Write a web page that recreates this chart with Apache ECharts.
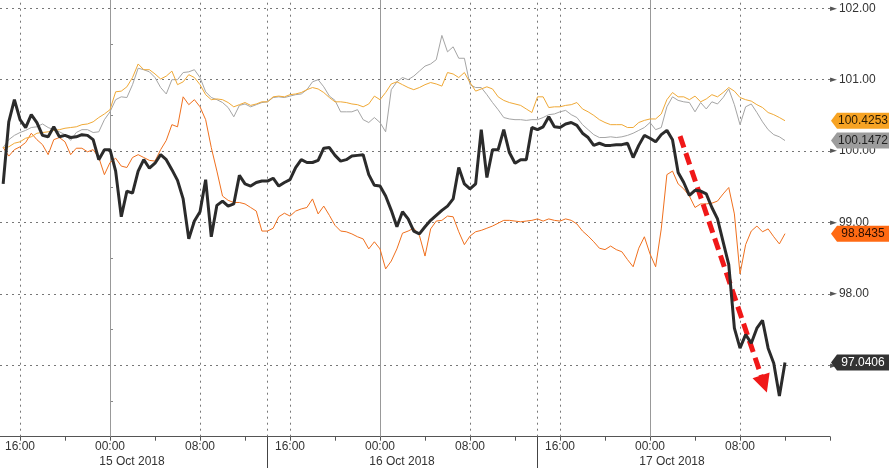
<!DOCTYPE html>
<html>
<head>
<meta charset="utf-8">
<script src="https://cdn.jsdelivr.net/npm/echarts@6/dist/echarts.min.js"></script>
<style>html,body{margin:0;padding:0;background:#fff}#c{width:890px;height:468px}</style>
</head>
<body>
<div id="c"></div>
<script>
// ---- data (hours measured from 15 Oct 2018 00:00) ----
const START_HOUR = -9.5;
const STEP_HOUR = 0.5;

const blackValues = [99.54,100.41,100.72,100.44,100.33,100.51,100.40,100.22,100.20,100.34,
100.20,100.22,100.19,100.20,100.23,100.22,100.16,99.88,100.02,100.02,
99.72,99.08,99.44,99.41,99.72,99.88,99.76,99.83,99.95,99.88,
99.74,99.59,99.33,98.77,99.02,99.15,99.60,98.80,99.24,99.30,
99.23,99.26,99.66,99.54,99.51,99.56,99.58,99.58,99.62,99.51,
99.56,99.60,99.77,99.88,99.84,99.84,99.87,100.04,100.05,99.94,
99.86,99.88,99.93,99.94,99.95,99.67,99.52,99.51,99.37,99.17,
98.94,99.15,99.05,98.88,98.84,98.94,99.03,99.10,99.17,99.23,
99.33,99.77,99.54,99.47,99.54,100.30,99.63,100.02,100.02,100.30,
99.98,99.83,99.88,99.88,100.33,100.30,100.34,100.48,100.34,100.33,
100.38,100.40,100.36,100.25,100.19,100.08,100.11,100.08,100.08,100.09,
100.09,100.11,99.91,100.08,100.22,100.18,100.13,100.23,100.29,100.16,
99.70,99.56,99.38,99.45,99.44,99.40,99.21,99.05,98.73,98.41,
97.52,97.24,97.43,97.31,97.52,97.63,97.24,97.03,96.57,97.0406];

const orangeValues = [100.05,100.06,100.11,100.13,100.18,100.20,100.25,100.26,100.27,100.29,
100.30,100.32,100.33,100.34,100.37,100.38,100.41,100.47,100.52,100.58,
100.83,100.84,100.90,101.03,101.22,101.14,101.14,101.08,101.01,101.05,
101.12,100.93,100.97,101.07,101.03,100.93,100.79,100.72,100.73,100.72,
100.68,100.62,100.65,100.68,100.64,100.66,100.69,100.69,100.76,100.77,
100.76,100.79,100.80,100.82,100.86,100.89,100.87,100.82,100.75,100.69,
100.69,100.68,100.66,100.65,100.62,100.66,100.77,100.72,100.82,100.94,
100.97,100.93,100.89,100.86,100.89,100.93,100.96,100.94,100.91,101.10,
101.08,101.03,101.10,100.96,100.84,100.87,100.90,100.87,100.76,100.71,
100.68,100.66,100.64,100.59,100.54,100.76,100.76,100.61,100.62,100.62,
100.64,100.65,100.68,100.59,100.55,100.50,100.44,100.40,100.37,100.37,
100.37,100.33,100.33,100.40,100.43,100.45,100.45,100.52,100.72,100.82,
100.76,100.76,100.72,100.77,100.69,100.73,100.79,100.76,100.82,100.89,
100.84,100.75,100.72,100.70,100.65,100.61,100.54,100.51,100.47,100.4253];

const grayValues = [100.05,100.16,100.22,100.26,100.29,100.33,100.34,100.38,100.33,100.30,
100.27,100.23,100.15,100.26,100.30,100.30,100.26,100.27,100.44,100.55,
100.72,100.76,100.75,100.93,101.16,101.14,101.11,101.03,100.89,100.80,
101.00,101.00,101.10,101.11,101.14,101.03,100.83,100.75,100.72,100.68,
100.61,100.48,100.64,100.66,100.62,100.65,100.68,100.69,100.75,100.76,
100.75,100.77,100.79,100.80,100.86,100.97,101.00,100.90,100.77,100.71,
100.55,100.55,100.55,100.58,100.44,100.40,100.47,100.40,100.27,100.86,
100.97,101.03,101.00,101.05,101.12,101.19,101.22,101.28,101.62,101.39,
101.46,101.30,101.30,100.93,100.89,100.89,100.79,100.68,100.58,100.47,
100.45,100.44,100.44,100.43,100.44,100.44,100.47,100.51,100.52,100.55,
100.57,100.51,100.47,100.37,100.30,100.23,100.19,100.19,100.20,100.19,
100.20,100.22,100.25,100.29,100.33,100.40,100.30,100.33,100.62,100.76,
100.71,100.69,100.68,100.55,100.68,100.59,100.69,100.66,100.75,100.87,
100.65,100.37,100.62,100.66,100.54,100.41,100.30,100.23,100.20,100.1472];

const redValues = [100.05,99.93,100.02,100.06,100.12,100.25,100.16,100.09,99.95,100.16,
100.19,100.13,99.95,100.04,100.04,99.99,100.02,99.91,99.67,99.84,
99.90,99.79,99.77,99.91,99.95,99.91,99.87,99.86,100.02,100.15,
100.37,100.34,100.76,100.65,100.72,100.62,100.44,100.05,99.72,99.37,
99.31,99.28,99.28,99.26,99.21,99.16,98.88,98.88,98.92,99.08,
99.13,99.09,99.16,99.19,99.21,99.33,99.12,99.23,99.10,98.96,
98.88,98.87,98.84,98.80,98.77,98.63,98.73,98.63,98.35,98.46,
98.63,98.85,98.88,98.92,98.82,98.53,98.91,99.02,99.03,99.09,
99.08,98.87,98.69,98.81,98.87,98.89,98.92,98.95,98.99,99.03,
99.03,99.02,99.01,99.02,99.03,99.05,99.02,99.05,99.03,99.02,
99.05,99.03,98.98,98.88,98.81,98.73,98.64,98.62,98.67,98.62,
98.59,98.48,98.38,98.64,98.80,98.56,98.38,98.91,99.67,99.72,
99.54,99.47,99.37,99.21,99.26,99.26,99.27,99.30,99.40,99.49,
99.12,98.28,98.69,98.88,98.95,98.87,98.91,98.80,98.70,98.8435];

// axis / tick labels
const X_MIN = -9.78, X_MAX = 64;
const Y_MIN = 96, Y_MAX = 102.116;
const xLabelHours = [-8, 0, 8, 16, 24, 32, 40, 48, 56];
const xLabelTexts = ['16:00', '00:00', '08:00', '16:00', '00:00', '08:00', '16:00', '00:00', '08:00'];
const dayHours = [0, 24, 48];
const dayLabels = ['15 Oct 2018', '16 Oct 2018', '17 Oct 2018'];
const xTickHours = [-8,-4,0,4,8,12,16,20,24,28,32,36,40,44,48,52,56,60,64];
const sessionHours = [14, 38];
const dottedGridHours = [-8, 8, 14, 16, 32, 38, 40, 56];
const yLabelValues = [97, 98, 99, 100, 101, 102];
const yMinorTicks = [96.5, 97.5, 98.5, 99.5, 100.5, 101.5];
// trend arrow (start / end in data units)
const arrowStart = [50.67, 100.21];
const arrowEnd = [58.13, 96.74];

// ---- build ----
const hours = blackValues.map((_, i) => START_HOUR + i * STEP_HOUR);
const pairs = vals => vals.map((v, i) => [hours[i], v]);
const FONT = 'Liberation Sans, Arial, sans-serif';

const tagPath = 'path://M0,8 L6,0 L58,0 L58,16 L6,16 Z';
function tag(vals, bg, fg) {
  const last = vals[vals.length - 1];
  return {
    silent: true,
    animation: false,
    data: [{
      coord: [X_MAX, last],
      value: last,
      symbol: tagPath,
      symbolSize: [58, 16],
      symbolOffset: [30, 0],
      itemStyle: { color: bg },
      label: {
        show: true, position: 'inside', offset: [3, 0],
        color: fg, fontSize: 12, fontFamily: FONT,
        formatter: () => last.toFixed(4)
      }
    }]
  };
}

const gridLines = [];
dottedGridHours.forEach(h => gridLines.push({ xAxis: h, lineStyle: { color: '#777', width: 1, type: [2, 4] } }));
dayHours.forEach(h => gridLines.push({ xAxis: h, lineStyle: { color: '#999', width: 1, type: 'solid' } }));
yLabelValues.forEach(v => gridLines.push({ yAxis: v, lineStyle: { color: '#777', width: 1, type: [2, 4] } }));

const chart = echarts.init(document.getElementById('c'), null, { renderer: 'canvas' });
chart.setOption({
  animation: false,
  backgroundColor: '#ffffff',
  grid: { left: 0, right: 60, top: 0, bottom: 31.3, containLabel: false, outerBoundsMode: 'none' },
  xAxis: [{
    type: 'value', min: X_MIN, max: X_MAX, position: 'bottom',
    axisLine: { show: true, lineStyle: { color: '#555', width: 1 } },
    axisTick: { show: true, customValues: xTickHours, length: 4, lineStyle: { color: '#555' } },
    splitLine: { show: false },
    axisLabel: {
      show: true, customValues: xLabelHours, margin: 2,
      color: '#333', fontSize: 12, fontFamily: FONT, lineHeight: 15,
      formatter: v => {
        const i = xLabelHours.indexOf(v);
        const d = dayHours.indexOf(v);
        const t = '{t|' + (i >= 0 ? xLabelTexts[i] : '') + '}';
        return d >= 0 ? t + '\n{d|' + dayLabels[d] + '}' : t;
      },
      rich: {
        t: { color: '#333', fontSize: 12, fontFamily: FONT, lineHeight: 15 },
        d: { color: '#333', fontSize: 12, fontFamily: FONT, lineHeight: 15, padding: [0, 0, 0, 44] }
      }
    }
  }, {
    type: 'value', min: X_MIN, max: X_MAX, position: 'bottom',
    axisLine: { show: false },
    axisTick: { show: true, customValues: sessionHours, length: 32, lineStyle: { color: '#444', width: 1 } },
    axisLabel: { show: false },
    splitLine: { show: false }
  }],
  yAxis: {
    type: 'value', min: Y_MIN, max: Y_MAX, position: 'right',
    axisLine: { show: true, lineStyle: { color: '#888', width: 1 } },
    axisTick: { show: true, customValues: yMinorTicks, length: 3, lineStyle: { color: '#888' } },
    splitLine: { show: false },
    axisLabel: {
      show: true, customValues: yLabelValues, margin: 0,
      formatter: v => '{a|►}{b|' + v.toFixed(2) + '}',
      rich: {
        a: { color: '#555', fontSize: 9, fontFamily: 'DejaVu Sans', padding: [0, 2, 0, 0] },
        b: { color: '#333', fontSize: 12, fontFamily: FONT }
      }
    }
  },
  series: [
    {
      name: 'red', type: 'line', data: pairs(redValues), z: 2,
      showSymbol: false, symbol: 'none',
      lineStyle: { color: '#F0701E', width: 1 },
      markLine: { silent: true, animation: false, symbol: ['none', 'none'], label: { show: false }, data: gridLines, z: 1 },
      markPoint: tag(redValues, '#FF6A13', '#2a0e00')
    },
    {
      name: 'gray', type: 'line', data: pairs(grayValues), z: 3,
      showSymbol: false, symbol: 'none',
      lineStyle: { color: '#A5A5A5', width: 1 },
      markPoint: tag(grayValues, '#9C9C9C', '#222')
    },
    {
      name: 'orange', type: 'line', data: pairs(orangeValues), z: 4,
      showSymbol: false, symbol: 'none',
      lineStyle: { color: '#F0A936', width: 1 },
      markPoint: tag(orangeValues, '#F7A323', '#2a1a00')
    },
    {
      name: 'black', type: 'line', data: pairs(blackValues), z: 5,
      showSymbol: false, symbol: 'none',
      lineStyle: { color: '#2B2B2B', width: 3 },
      markPoint: tag(blackValues, '#333333', '#ffffff'),
      markLine: {
        silent: true, animation: false,
        symbol: ['none', 'triangle'], symbolSize: 18,
        label: { show: false },
        lineStyle: { color: '#F01818', width: 5, type: [12, 6] },
        itemStyle: { color: '#F01818' },
        data: [[{ coord: arrowStart }, { coord: arrowEnd }]]
      }
    }
  ]
});
</script>
</body>
</html>
